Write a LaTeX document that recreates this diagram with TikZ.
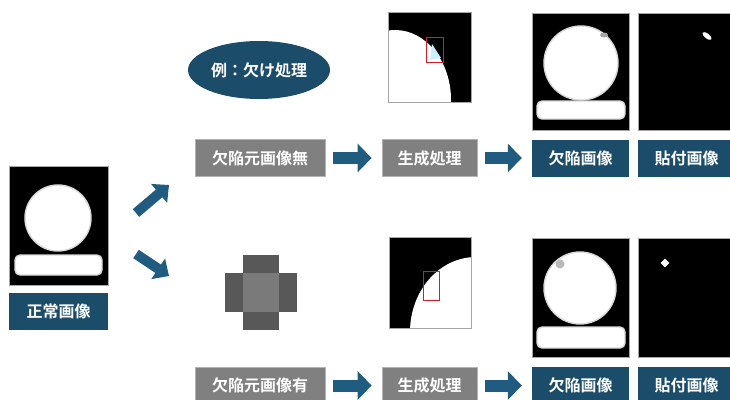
\documentclass[tikz,border=0pt]{standalone}
\usepackage{fontspec}
\newfontfamily\jp{Noto Sans CJK JP}[BoldFont={Noto Sans CJK JP Bold}]
\usetikzlibrary{arrows.meta,shapes.geometric}
\definecolor{boxblue}{RGB}{27,77,107}
\definecolor{arrowblue}{RGB}{31,92,128}
\definecolor{boxgray}{RGB}{128,128,128}
\definecolor{crossdark}{RGB}{88,88,88}
\definecolor{crosslight}{RGB}{122,122,122}
\definecolor{defred}{RGB}{210,30,40}
\tikzset{
  lbl/.style={font=\jp\bfseries\fontsize{16}{16}\selectfont, text=white, inner sep=0pt, minimum height=37pt},
  bluebox/.style={lbl, fill=boxblue},
  graybox/.style={lbl, fill=boxgray, draw=gray!60, line width=0.8pt},
  imgframe/.style={fill=black, draw=gray!70, line width=0.8pt, inner sep=0pt},
  blob/.style={fill=white, draw=gray!30, line width=1.4pt},
  bigarrow/.style={draw=arrowblue, line width=12pt, -{Triangle[length=14pt,width=28pt]}, shorten <=8pt, shorten >=10pt},
  diagarrow/.style={draw=arrowblue, line width=10pt, -{Triangle[length=13pt,width=24pt]}},
  redmark/.style={draw=defred, line width=1pt}
}
\begin{document}
\begin{tikzpicture}[x=1pt,y=-1pt]
\useasboundingbox (0,0) rectangle (730,399);
\fill[white] (0,0) rectangle (730,399);

% ---------- normal image ----------
\node[imgframe, minimum width=99pt, minimum height=119pt] (norm) at (58.5,225.5) {};
\fill[blob] (58,218) circle (33);
\fill[blob, rounded corners=5pt] (15,255) rectangle (102,275);
\node[bluebox, minimum width=99pt] (normlbl) at (58.5,311.5) {正常画像};

% diagonal arrows
\coordinate (upA) at (136,213);
\coordinate (upB) at (169,185);
\coordinate (dnA) at (136,254);
\coordinate (dnB) at (169,276);
\draw[diagarrow] (upA) -- (upB);
\draw[diagarrow] (dnA) -- (dnB);

% ---------- top row ----------
\node[ellipse, fill=boxblue, minimum width=142pt, minimum height=58pt, inner sep=0pt,
      font=\jp\bfseries\fontsize{16}{16}\selectfont, text=white] (ex) at (259,70) {例：欠け処理};

\node[graybox, minimum width=130pt] (g1) at (260,158) {欠陥元画像無};
\node[graybox, minimum width=95pt] (s1) at (429.5,158) {生成処理};
\node[bluebox, minimum width=97pt] (d1) at (580.5,158) {欠陥画像};
\node[bluebox, minimum width=97pt] (p1) at (686.5,158) {貼付画像};
\draw[bigarrow] (g1.east) -- (s1.west);
\draw[bigarrow] (s1.east) -- (d1.west);

% crop image top
\node[imgframe, minimum width=83pt, minimum height=90pt] (c1) at (429.5,57) {};
\begin{scope}
  \clip (388,12) rectangle (471,102);
  \fill[white] (395,100) ellipse [x radius=56, y radius=70];
\end{scope}
\draw[gray!70, line width=0.8pt] (388,12) rectangle (471,102);
\fill[white!80!cyan] (432,44) -- (441,58) -- (430,60) -- cycle;
\draw[redmark] (426,37) rectangle (443,62);

% defect image top
\node[imgframe, minimum width=97pt, minimum height=117pt] (i1) at (580.5,71.5) {};
\fill[blob] (581,63) circle (37);
\fill[gray!70] (604,35) ellipse [x radius=4, y radius=2.5];
\fill[blob, rounded corners=5pt] (537,101) rectangle (625,119);

% paste image top
\node[imgframe, minimum width=97pt, minimum height=117pt] (q1) at (686.5,71.5) {};
\node[ellipse, fill=white, minimum width=11pt, minimum height=5pt, inner sep=0pt, rotate=-38] (sp1) at (707,36) {};

% ---------- bottom row ----------
% cross shape
\fill[crossdark] (243,255) rectangle (279,330);
\fill[crossdark] (225,273) rectangle (297,312);
\fill[crosslight] (243,273) rectangle (279,312);

\node[graybox, minimum width=130pt] (g2) at (260,385.5) {欠陥元画像有};
\node[graybox, minimum width=95pt] (s2) at (429.5,385.5) {生成処理};
\node[bluebox, minimum width=97pt] (d2) at (580.5,385.5) {欠陥画像};
\node[bluebox, minimum width=97pt] (p2) at (686.5,385.5) {貼付画像};
\draw[bigarrow] (g2.east) -- (s2.west);
\draw[bigarrow] (s2.east) -- (d2.west);

% crop image bottom
\node[imgframe, minimum width=82pt, minimum height=91pt] (c2) at (430,282.5) {};
\begin{scope}
  \clip (389,237) rectangle (471,328);
  \fill[white] (476,332) ellipse [x radius=66, y radius=75];
\end{scope}
\draw[gray!70, line width=0.8pt] (389,237) rectangle (471,328);
\draw[redmark] (423,271) rectangle (439,300);

% defect image bottom
\node[imgframe, minimum width=97pt, minimum height=119pt] (i2) at (580.5,297.5) {};
\fill[blob] (580,288) circle (36);
\fill[gray!55] (560,264) circle (4.5);
\fill[blob, rounded corners=5pt] (537,327) rectangle (625,348);

% paste image bottom
\node[imgframe, minimum width=97pt, minimum height=119pt] (q2) at (686.5,297.5) {};
\node[diamond, fill=white, minimum width=9pt, minimum height=9pt, inner sep=0pt] (sp2) at (665,263) {};
\end{tikzpicture}
\end{document}
